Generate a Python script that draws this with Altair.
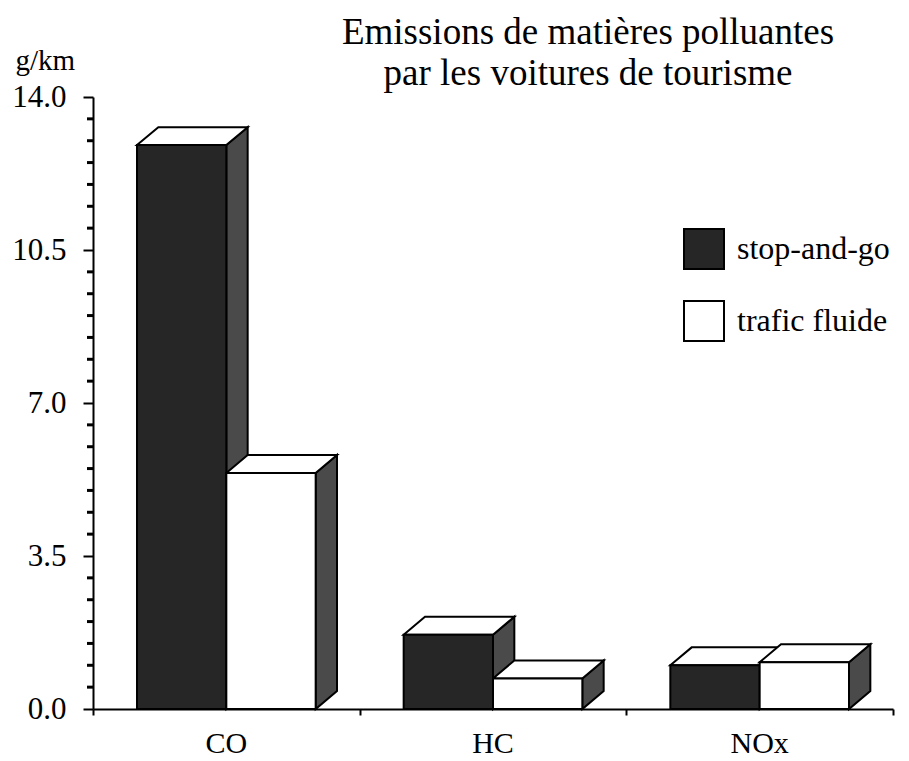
import altair as alt
import pandas as pd

categories = ["CO", "HC", "NOx"]
series_names = ["stop-and-go", "trafic fluide"]
stop_and_go = [12.9, 1.7, 1.0]
trafic_fluide = [5.4, 0.7, 1.07]
y_major = [0.0, 3.5, 7.0, 10.5, 14.0]
y_minor = [0.5, 1.0, 1.5, 2.0, 2.5, 3.0, 4.0, 4.5, 5.0, 5.5, 6.0, 6.5,
           7.5, 8.0, 8.5, 9.0, 9.5, 10.0, 11.0, 11.5, 12.0, 12.5, 13.0, 13.5]
title_lines = ["Emissions de matières polluantes", "par les voitures de tourisme"]
unit_label = "g/km"

# style constants (geometry of the pseudo-3D boxes)
BAR_W = 0.335   # bar width in category units
DX = 0.08       # depth offset in category units
DY = 0.41       # depth offset in value units
FONT = "Liberation Serif"
W, H = 800, 612

fronts, tops, sides = [], [], []
for i, cat in enumerate(categories):
    c = i + 0.5
    for s, vals, x0, x1 in [(series_names[0], stop_and_go, c - BAR_W, c),
                            (series_names[1], trafic_fluide, c, c + BAR_W)]:
        v = vals[i]
        bid = f"{cat}-{s}"
        fronts.append(dict(cat=cat, series=s, x0=x0, x1=x1, v=v))
        for x, yu, yl in [(x0, v, v), (x0 + DX, v + DY, v), (x1, v + DY, v),
                          (x1 + DX, v + DY, v + DY)]:
            tops.append(dict(bar=bid, series=s, x=x, yu=yu, yl=yl))
        for x, yu, yl in [(x1, v, 0.0), (x1 + DX, v + DY, DY)]:
            sides.append(dict(bar=bid, series=s, x=x, yu=yu, yl=yl))

df_front = pd.DataFrame(fronts)
df_top = pd.DataFrame(tops)
df_side = pd.DataFrame(sides)
df_cat = pd.DataFrame({"cat": categories, "pos": [i + 0.5 for i in range(len(categories))]})
df_minor = pd.DataFrame({"t": y_minor})

xscale = alt.Scale(domain=[0, 3], nice=False, zero=False)
yscale = alt.Scale(domain=[0, 14], nice=False, zero=False)

x_axis = alt.Axis(values=[0, 1, 2, 3], labels=False, title=None, grid=False,
                  tickSize=6, tickWidth=2, tickColor="black",
                  domainColor="black", domainWidth=2)
y_axis = alt.Axis(values=y_major, format=".1f", grid=False, title=unit_label,
                  titleAngle=0, titleAlign="left", titleBaseline="alphabetic",
                  titleX=-78, titleY=-28, titleFont=FONT, titleFontSize=29,
                  titleFontWeight="normal", titleColor="black",
                  labelFont=FONT, labelFontSize=31, labelColor="black",
                  labelPadding=17, tickSize=10, tickWidth=2, tickColor="black",
                  domainColor="black", domainWidth=2)

sides_layer = alt.Chart(df_side).mark_area(
    fill="#4a4a4a", stroke="black", strokeWidth=2, interpolate="linear"
).encode(
    x=alt.X("x:Q", scale=xscale, axis=x_axis),
    y=alt.Y("yu:Q", scale=yscale, axis=y_axis),
    y2="yl:Q",
    detail="bar:N",
)

def top_layer(sname):
    return alt.Chart(df_top[df_top["series"] == sname]).mark_area(
        fill="white", stroke="black", strokeWidth=2, interpolate="linear"
    ).encode(
        x=alt.X("x:Q", scale=xscale),
        y=alt.Y("yu:Q", scale=yscale),
        y2="yl:Q",
        detail="bar:N",
    )

front_layer = alt.Chart(df_front).mark_rect(stroke="black", strokeWidth=2).encode(
    x=alt.X("x0:Q", scale=xscale),
    x2="x1:Q",
    y=alt.Y("v:Q", scale=yscale),
    y2=alt.Y2(datum=0),
    fill=alt.Fill("series:N",
                  scale=alt.Scale(domain=series_names, range=["#262626", "#ffffff"]),
                  legend=alt.Legend(orient="none", legendX=590, legendY=131,
                                    title=None, symbolType="square", symbolSize=1600,
                                    symbolStrokeColor="black", symbolStrokeWidth=2,
                                    labelFont=FONT, labelFontSize=32, labelColor="black",
                                    labelOffset=12, rowPadding=24, padding=0,
                                    labelLimit=300)),
)

minor_layer = alt.Chart(df_minor).mark_rule(color="black", strokeWidth=3).encode(
    y=alt.Y("t:Q", scale=yscale),
    x=alt.value(-6),
    x2=alt.value(0),
)

cat_labels = alt.Chart(df_cat).mark_text(
    font=FONT, fontSize=30, color="black", baseline="alphabetic", align="center"
).encode(
    x=alt.X("pos:Q", scale=xscale),
    y=alt.value(H + 44),
    text="cat:N",
)

title1 = alt.Chart(pd.DataFrame({"t": [title_lines[0]]})).mark_text(
    font=FONT, fontSize=37, color="black", baseline="alphabetic", align="center"
).encode(x=alt.value(495), y=alt.value(-53), text="t:N")

title2 = alt.Chart(pd.DataFrame({"t": [title_lines[1]]})).mark_text(
    font=FONT, fontSize=37, color="black", baseline="alphabetic", align="center"
).encode(x=alt.value(495), y=alt.value(-12), text="t:N")

chart = alt.layer(
    sides_layer, top_layer(series_names[0]), top_layer(series_names[1]),
    front_layer, minor_layer, cat_labels, title1, title2
).properties(
    width=W, height=H,
    autosize=alt.AutoSizeParams(type="none"),
    padding={"left": 85, "top": 89, "right": 8, "bottom": 52},
    background="white",
).configure_view(stroke=None)

chart.save("out.html", embed_options={"renderer": "svg", "actions": False})
